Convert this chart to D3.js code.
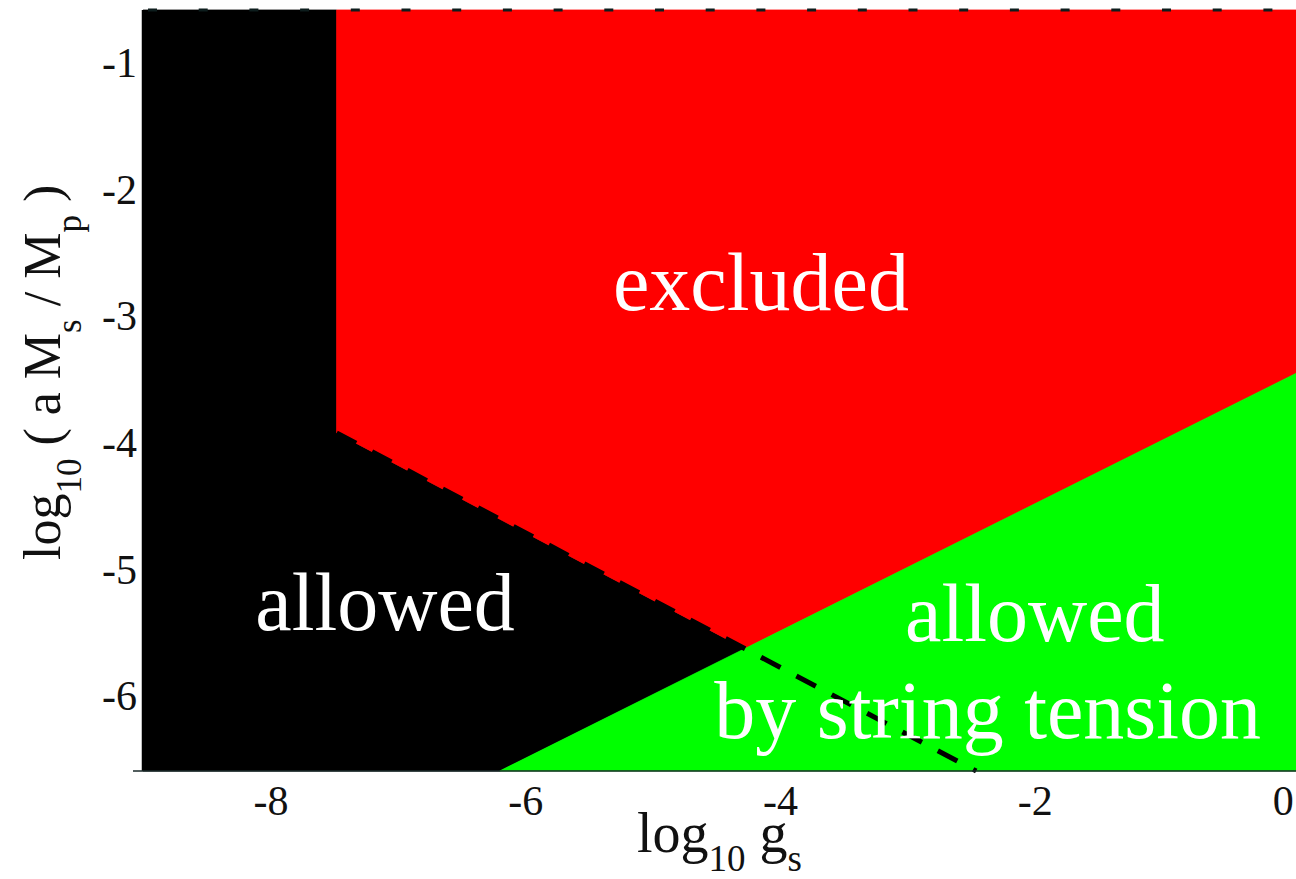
<!DOCTYPE html>
<html>
<head>
<meta charset="utf-8">
<script src="https://cdn.jsdelivr.net/npm/d3@7"></script>
<style>
  html, body { margin: 0; padding: 0; background: #fff; }
  svg { display: block; }
  text { font-family: "Liberation Serif", "Times New Roman", serif; }
</style>
</head>
<body>
<svg id="chart" width="1296" height="879"></svg>
<script>
// Axis extents (log10 g_s horizontally, log10(a M_s / M_p) vertically)
const xDomain = [-9, 0.05];
const yDomain = [-6.59, -0.58];
const xTicks = [-8, -6, -4, -2, 0];
const yTicks = [-1, -2, -3, -4, -5, -6];

// Region boundaries, in data units
const wallX = -7.48;                                 // vertical edge of the excluded zone
const cutLine = [[-7.48, -3.92], [-2.46, -6.59]];    // dashed bound
const tensionLine = [[-6.2, -6.59], [0.05, -3.45]];  // string-tension bound

// Region names and label anchors (data units)
const regionLabels = [
  { text: "excluded", x: -4.15, y: -2.95 },
  { text: "allowed", x: -7.1, y: -5.48 },
  { text: "allowed", x: -2.0, y: -5.56 },
  { text: "by string tension", x: -2.37, y: -6.33 }
];

const svg = d3.select("#chart");
const x = d3.scaleLinear().domain(xDomain).range([143, 1296]);
const y = d3.scaleLinear().domain(yDomain).range([771, 10]);

// Intersection of two lines given by point pairs
function intersect(a, b) {
  const [[x1, y1], [x2, y2]] = a, [[x3, y3], [x4, y4]] = b;
  const m1 = (y2 - y1) / (x2 - x1), m2 = (y4 - y3) / (x4 - x3);
  const xi = (y3 - y1 + m1 * x1 - m2 * x3) / (m1 - m2);
  return [xi, y1 + m1 * (xi - x1)];
}
const cross = intersect(cutLine, tensionLine);
const [xMin, xMax] = xDomain, [yMin, yMax] = yDomain;

const regions = [
  { fill: "#000000", pts: [[xMin, yMax], [wallX, yMax], cutLine[0], cross, tensionLine[0], [xMin, yMin]] },
  { fill: "#ff0000", pts: [[wallX, yMax], [xMax, yMax], tensionLine[1], cross, cutLine[0]] },
  { fill: "#00ff00", pts: [tensionLine[0], cross, tensionLine[1], [xMax, yMin]] }
];

const line = d3.line().x(d => x(d[0])).y(d => y(d[1]));

svg.append("g").selectAll("path").data(regions).join("path")
  .attr("d", d => line(d.pts) + "Z")
  .attr("fill", d => d.fill)
  .attr("stroke", d => d.fill)
  .attr("stroke-width", 0.8);

// Dashed bound across the lower part
svg.append("path")
  .attr("d", line(cutLine))
  .attr("fill", "none")
  .attr("stroke", "#000")
  .attr("stroke-width", 5)
  .attr("stroke-dasharray", "22,18");

// Dashed upper frame
svg.append("path")
  .attr("d", line([[xMin, yMax], [xMax, yMax]]))
  .attr("fill", "none")
  .attr("stroke", "#0d1d1d")
  .attr("stroke-width", 3)
  .attr("stroke-dasharray", "9,41.7")
  .attr("stroke-dashoffset", -5);

// Region labels
svg.append("g").attr("fill", "#fff").attr("font-size", 82).attr("text-anchor", "middle")
  .selectAll("text").data(regionLabels).join("text")
  .attr("x", d => x(d.x))
  .attr("y", d => y(d.y))
  .text(d => d.text);

// Axes
const fmt = d => String(d);
const gx = svg.append("g").attr("transform", `translate(0,${y(yMin)})`)
  .call(d3.axisBottom(x).tickValues(xTicks).tickFormat(fmt).tickSize(0).tickPadding(14));
gx.select(".domain").remove();
gx.selectAll("text").attr("font-size", 42).attr("fill", "#111")
  .attr("font-family", "Liberation Serif, serif")
  .attr("dx", d => d === xTicks[xTicks.length - 1] ? -7 : 0);

const gy = svg.append("g").attr("transform", `translate(${x(xMin)},0)`)
  .call(d3.axisLeft(y).tickValues(yTicks).tickFormat(fmt).tickSize(0).tickPadding(6));
gy.select(".domain").remove();
gy.selectAll("text").attr("font-size", 42).attr("fill", "#111")
  .attr("font-family", "Liberation Serif, serif");

// Axis lines
svg.append("line")
  .attr("x1", x(xMin)).attr("x2", x(xMin))
  .attr("y1", y(yMax)).attr("y2", y(yMin))
  .attr("stroke", "#000").attr("stroke-width", 2.5);
svg.append("line")
  .attr("x1", x(xMin) - 10).attr("x2", x(xMax))
  .attr("y1", y(yMin)).attr("y2", y(yMin))
  .attr("stroke", "#1a2a2a").attr("stroke-width", 1.5);

// Axis titles with subscripts
const xt = svg.append("text").attr("x", 637).attr("y", 852)
  .attr("font-size", 56).attr("fill", "#111");
xt.append("tspan").text("log");
xt.append("tspan").attr("font-size", 37).attr("dy", 19).text("10");
xt.append("tspan").attr("dy", -19).text(" g");
xt.append("tspan").attr("font-size", 37).attr("dy", 19).text("s");

const yt = svg.append("text")
  .attr("transform", "translate(60,560) rotate(-90)")
  .attr("font-size", 52).attr("fill", "#111");
yt.append("tspan").text("log");
yt.append("tspan").attr("font-size", 35).attr("dy", 21).text("10");
yt.append("tspan").attr("dy", -21).text(" ( a M");
yt.append("tspan").attr("font-size", 35).attr("dy", 21).text("s");
yt.append("tspan").attr("dy", -21).text(" / M");
yt.append("tspan").attr("font-size", 35).attr("dy", 21).text("p");
yt.append("tspan").attr("dy", -21).text(" )");
</script>
</body>
</html>
